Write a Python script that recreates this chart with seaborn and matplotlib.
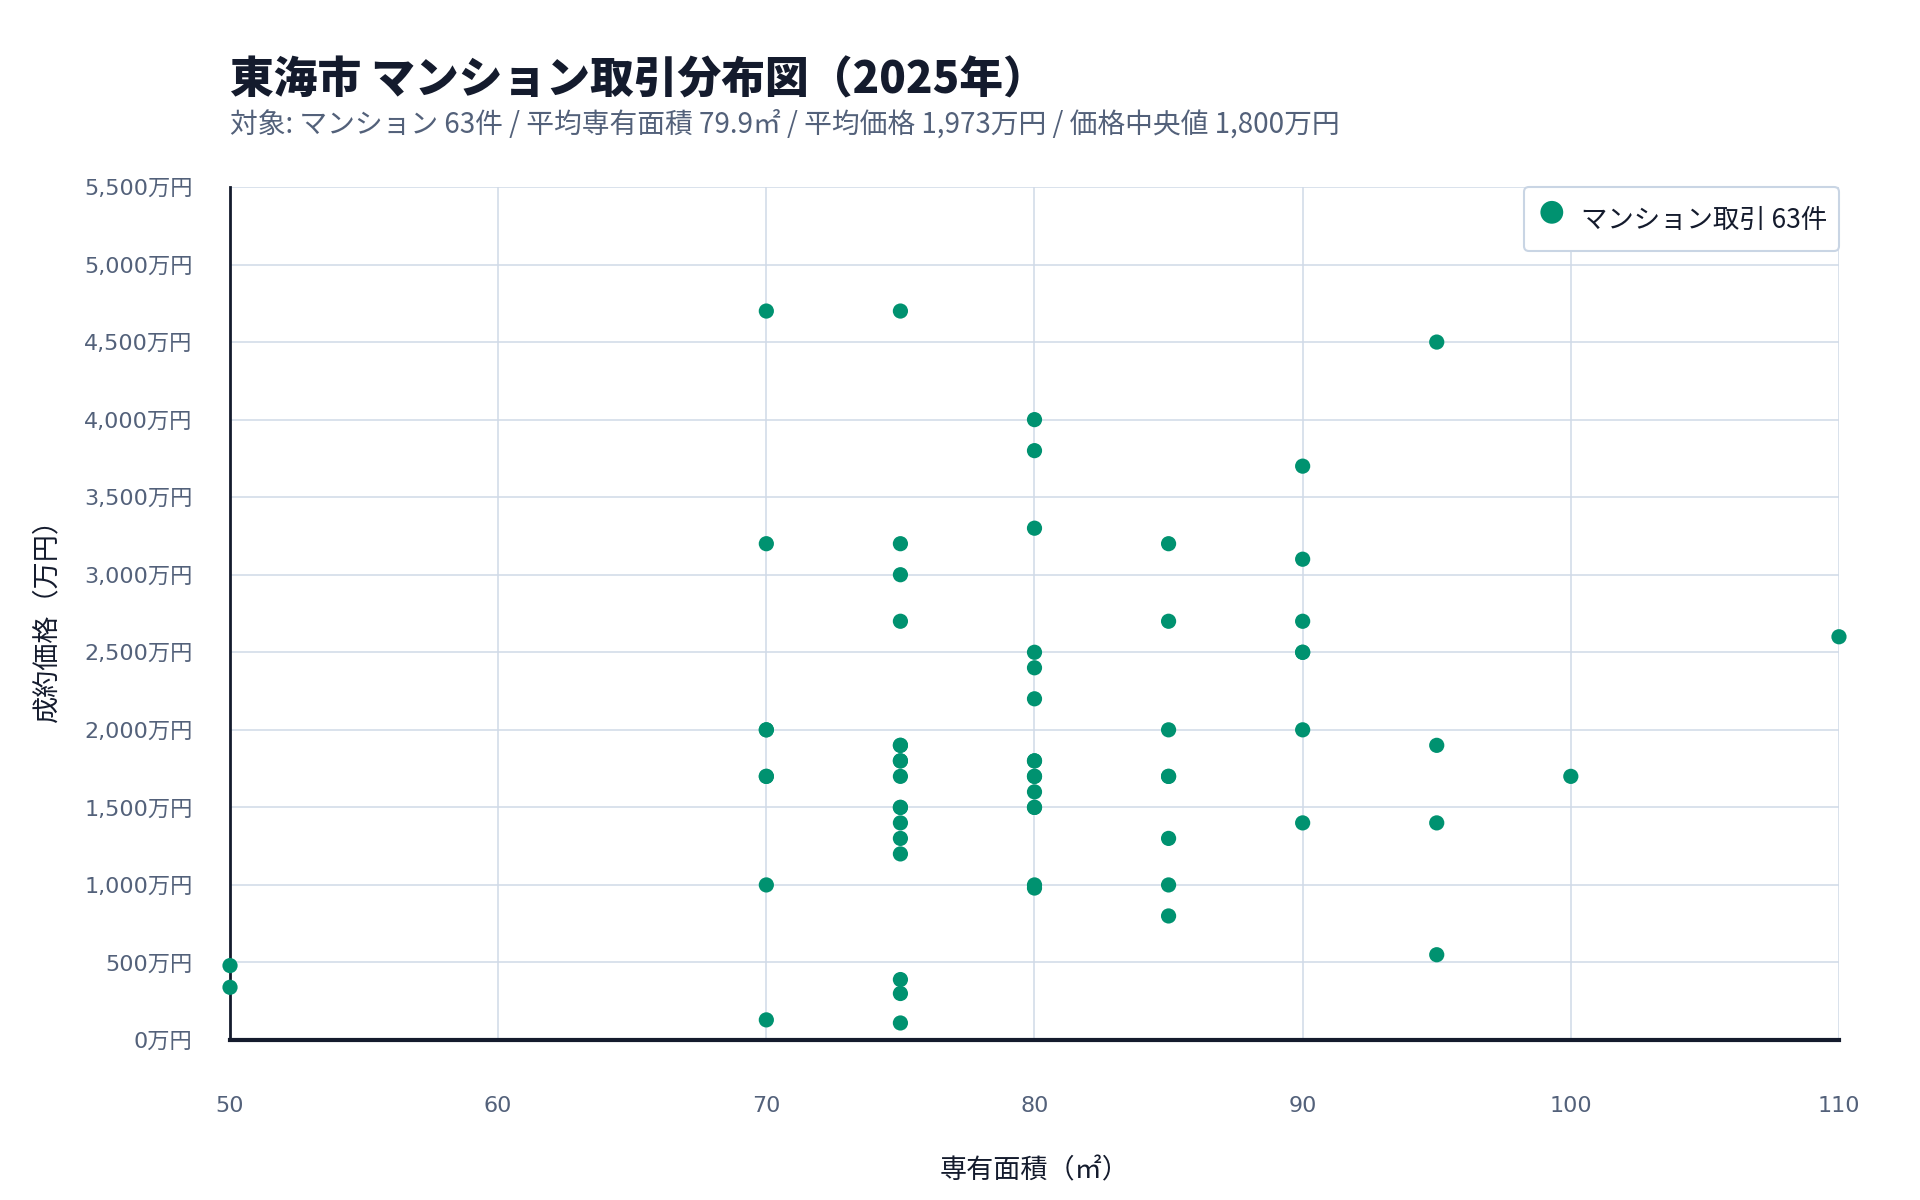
import pandas as pd
import matplotlib
matplotlib.use("Agg")
import matplotlib.pyplot as plt
import seaborn as sns

# 取引データ（専有面積 ㎡ / 成約価格 万円）
area = [50, 50,
        70, 70, 70, 70, 70, 70,
        75, 75, 75, 75, 75, 75, 75, 75, 75, 75, 75, 75, 75, 75,
        80, 80, 80, 80, 80, 80, 80, 80, 80, 80, 80, 80,
        85, 85, 85, 85, 85, 85, 85,
        90, 90, 90, 90, 90, 90,
        95, 95, 95, 95,
        100, 110,
        # 重なって見えない取引
        70, 70, 75, 75, 75, 80, 80, 80, 85, 90]
price = [480, 340,
         4700, 3200, 2000, 1700, 1000, 130,
         4700, 3200, 3000, 2700, 1900, 1800, 1700, 1500, 1400, 1300, 1200, 390, 300, 110,
         4000, 3800, 3300, 2500, 2400, 2200, 1800, 1700, 1600, 1500, 1000, 980,
         3200, 2700, 2000, 1700, 1300, 1000, 800,
         3700, 3100, 2700, 2500, 2000, 1400,
         4500, 1900, 1400, 550,
         1700, 2600,
         1700, 2000, 1500, 1800, 1900, 1500, 1700, 1800, 1700, 2500]

x_ticks = [50, 60, 70, 80, 90, 100, 110]
y_ticks = list(range(0, 5501, 500))

title = "東海市 マンション取引分布図（2025年）"
subtitle = "対象: マンション 63件 / 平均専有面積 79.9㎡ / 平均価格 1,973万円 / 価格中央値 1,800万円"
series_label = "マンション取引 63件"

df = pd.DataFrame({"area": area, "price": price})

sns.set_theme(style="white")
plt.rcParams["font.family"] = ["Noto Sans CJK JP", "DejaVu Sans"]

GREEN = "#009270"
DARK = "#141b2d"
SLATE = "#53617a"
GRID = "#d0dae7"

fig = plt.figure(figsize=(19.2, 12), dpi=100)
ax = fig.add_axes([0.1198, 0.1333, 0.8380, 0.7109])

sns.scatterplot(data=df, x="area", y="price", ax=ax, color=GREEN, s=120,
                edgecolor="none", linewidth=0, label=series_label,
                clip_on=False, zorder=5)

ax.set_xlim(50, 110)
ax.set_ylim(0, 5500)
ax.set_xticks(x_ticks)
ax.set_yticks(y_ticks)
ax.set_xticklabels([str(v) for v in x_ticks])
ax.set_yticklabels([f"{v:,}万円" for v in y_ticks])
ax.grid(True, color=GRID, linewidth=1.1)
ax.set_axisbelow(True)

ax.tick_params(axis="both", labelsize=16, labelcolor=SLATE, length=0,
               labelfontfamily=["DejaVu Sans", "Noto Sans CJK JP"])
ax.tick_params(axis="x", pad=40)
ax.tick_params(axis="y", pad=27)

for side in ["top", "right"]:
    ax.spines[side].set_visible(False)
ax.spines["left"].set_color(DARK)
ax.spines["left"].set_linewidth(2)
ax.spines["bottom"].set_color(DARK)
ax.spines["bottom"].set_linewidth(3)

ax.set_xlabel("専有面積（㎡）", fontsize=19.5, color=DARK, labelpad=30)
ax.set_ylabel("成約価格（万円）", fontsize=19.5, color=DARK, labelpad=17)

leg = ax.legend(loc="upper right", bbox_to_anchor=(1.0, 1.0), borderaxespad=0,
                fontsize=19, frameon=True, fancybox=True, markerscale=1.5,
                handlelength=1.2, handleheight=2.0, handletextpad=0.5,
                borderpad=0.45, labelcolor=DARK)
leg.get_frame().set_edgecolor("#c9d5e4")
leg.get_frame().set_linewidth(1.5)
leg.get_frame().set_alpha(1)

fig.text(0.1198, 1 - 80 / 1200, title, fontsize=31.5, fontweight="black",
         color=DARK, ha="left", va="center")
fig.text(0.1198, 1 - 125 / 1200, subtitle, fontsize=20, color=SLATE,
         ha="left", va="center")

fig.savefig("out.png", dpi=100, facecolor="white")
